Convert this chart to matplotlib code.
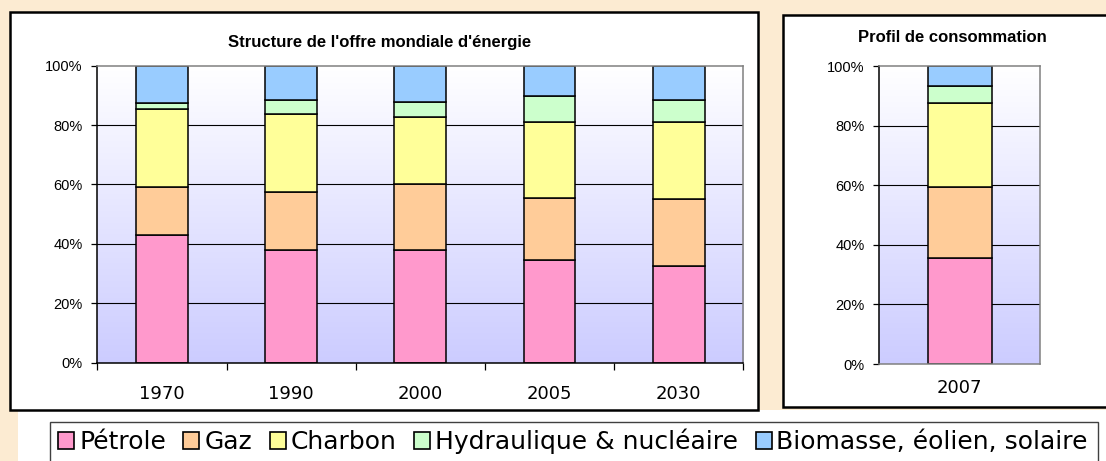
import numpy as np
import matplotlib.pyplot as plt
from matplotlib.patches import Rectangle, Patch
from matplotlib.colors import LinearSegmentedColormap

# parts de chaque source (%)
years = ['1970', '1990', '2000', '2005', '2030']
petrole = [42.9, 37.9, 37.9, 34.6, 32.7]
gaz = [16.2, 19.6, 22.1, 21.0, 22.4]
charbon = [26.2, 26.2, 22.6, 25.3, 25.8]
hydraulique = [2.1, 4.8, 5.3, 8.9, 7.4]
biomasse = [12.6, 11.5, 12.1, 10.2, 11.7]

conso_year = ['2007']
conso_petrole = [35.5]
conso_gaz = [23.9]
conso_charbon = [28.4]
conso_hydraulique = [5.6]
conso_biomasse = [6.6]

labels = ['Pétrole', 'Gaz', 'Charbon', 'Hydraulique & nucléaire', 'Biomasse, éolien, solaire']
colors = ['#FF99CC', '#FFCC99', '#FFFF99', '#CCFFCC', '#99CCFF']
yticks = [0, 20, 40, 60, 80, 100]

W, H = 1106, 461
beige = '#FCEBD2'

fig = plt.figure(figsize=(W / 100, H / 100), dpi=100, facecolor='white')


def px_rect(x0, y0, x1, y1, **kw):
    # rectangle in pixel coords (origin top-left)
    r = Rectangle((x0 / W, 1 - y1 / H), (x1 - x0) / W, (y1 - y0) / H,
                  transform=fig.transFigure, **kw)
    fig.add_artist(r)
    return r


def px_axes(x0, y0, x1, y1):
    return fig.add_axes([x0 / W, 1 - y1 / H, (x1 - x0) / W, (y1 - y0) / H])


# background
px_rect(0, 0, W, 410, facecolor=beige, edgecolor='none', zorder=0)
px_rect(0, 0, 18, H, facecolor=beige, edgecolor='none', zorder=0)
# panels
px_rect(10, 12, 758, 410, facecolor='white', edgecolor='black', lw=1.8, zorder=1)
px_rect(783, 15, W + 20, 407, facecolor='white', edgecolor='black', lw=1.8, zorder=1)

grad = LinearSegmentedColormap.from_list('bg', ['#CCCCFF', '#FFFFFF'])


def draw_panel(ax, cats, series, xpad, show_xticks):
    ax.set_zorder(2)
    n = len(cats)
    x = np.arange(n)
    ax.imshow(np.linspace(0, 1, 256).reshape(-1, 1), cmap=grad, origin='lower',
              extent=[0, 1, 0, 1], transform=ax.transAxes, aspect='auto', zorder=0)
    bottom = np.zeros(n)
    for vals, c in zip(series, colors):
        ax.bar(x, vals, 0.4, bottom=bottom, color=c, edgecolor='black', lw=1.1, zorder=3)
        bottom += np.array(vals)
    ax.set_xlim(-0.5, n - 0.5)
    ax.set_ylim(0, 100)
    for yv in yticks[1:-1]:
        ax.axhline(yv, color='black', lw=0.8, zorder=1)
    ax.set_yticks(yticks)
    ax.set_yticklabels([f'{v}%' for v in yticks], fontsize=10.5, family='Liberation Sans')
    ax.tick_params(axis='y', length=4, width=0.9, pad=6.5, direction='out')
    if show_xticks:
        ax.set_xticks(np.arange(n + 1) - 0.5)
        ax.tick_params(axis='x', which='major', length=5, width=0.9, direction='out')
        ax.spines['bottom'].set_color('black')
    else:
        ax.set_xticks([])
        ax.spines['bottom'].set_color('#808080')
    ax.set_xticks(x, minor=True)
    ax.set_xticklabels(['' for _ in ax.get_xticks()])
    ax.set_xticklabels(cats, minor=True, fontsize=13, family='DejaVu Sans')
    ax.tick_params(axis='x', which='minor', length=0, pad=xpad)
    ax.spines['left'].set_color('black')
    ax.spines['top'].set_color('#808080')
    ax.spines['right'].set_color('#808080')
    for s in ax.spines.values():
        s.set_linewidth(1.1)
        s.set_zorder(4)


ax1 = px_axes(97.3, 65.7, 743.3, 362.7)
draw_panel(ax1, years, [petrole, gaz, charbon, hydraulique, biomasse], 16, True)

ax2 = px_axes(879.3, 66.3, 1040, 364)
draw_panel(ax2, conso_year, [conso_petrole, conso_gaz, conso_charbon,
                             conso_hydraulique, conso_biomasse], 11, False)

fig.text(380 / W, 1 - 42.3 / H, "Structure de l'offre mondiale d'énergie",
         ha='center', va='center', fontsize=12, fontweight='bold', family='Liberation Sans')
fig.text(952 / W, 1 - 37.3 / H, 'Profil de consommation',
         ha='center', va='center', fontsize=12, fontweight='bold', family='Liberation Sans')

# legend
px_rect(50, 421.7, 1098, H + 10, facecolor='white', edgecolor='#404040', lw=1.0, zorder=1)
handles = [Patch(facecolor=c, edgecolor='black', lw=1.2) for c in colors]
leg = fig.legend(handles, labels, ncol=5, loc='center left',
                 bbox_to_anchor=(58 / W, 1 - 441.5 / H), frameon=False,
                 prop={'family': 'DejaVu Sans', 'size': 18},
                 handlelength=0.64, handleheight=0.64, handletextpad=0.2,
                 columnspacing=0.7, borderpad=0, borderaxespad=0)
leg.set_zorder(5)

plt.savefig('out.png', dpi=100, facecolor=fig.get_facecolor())
plt.close()
